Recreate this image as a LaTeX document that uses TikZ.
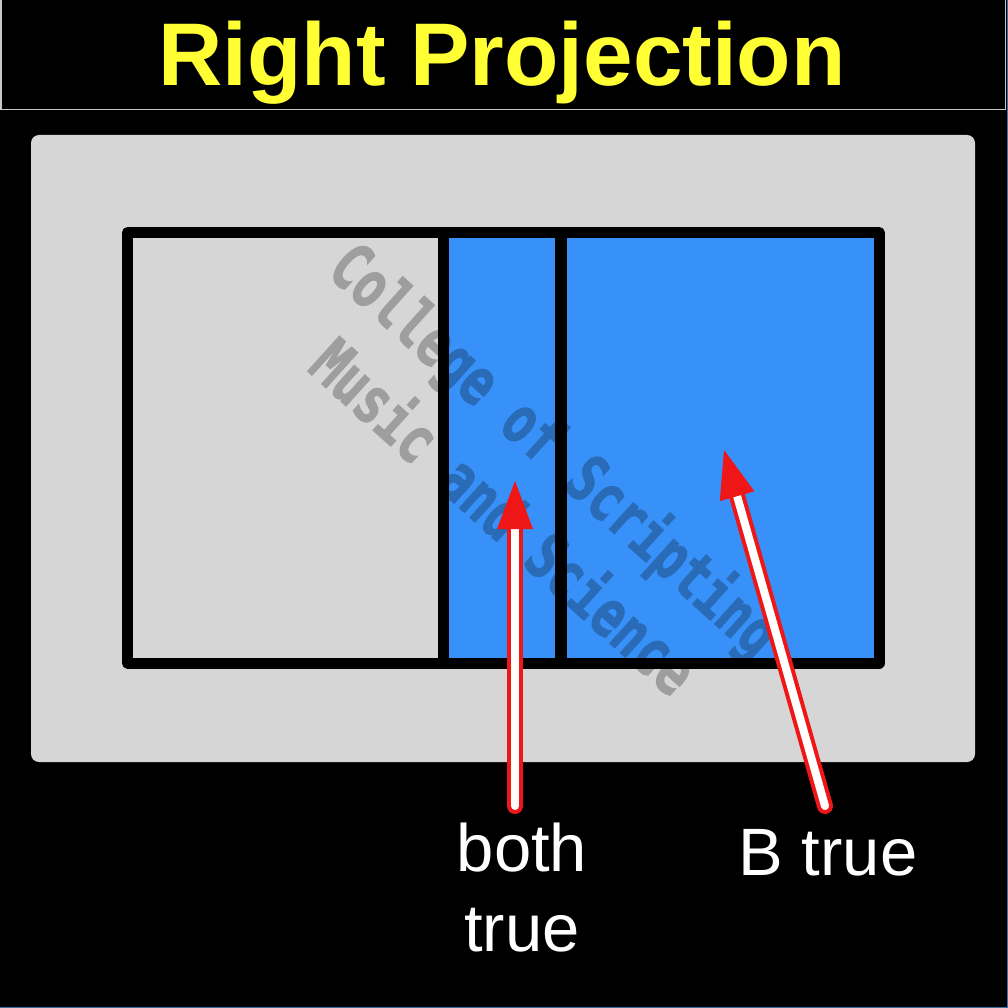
\documentclass[tikz,border=0pt]{standalone}
\usepackage{fontspec}
\setmainfont{Liberation Sans}
\newfontfamily\wmfont[BoldFeatures={FakeBold=2}]{DejaVu Sans Mono}
\usetikzlibrary{calc}
\definecolor{panelgray}{RGB}{214,214,214}
\definecolor{fillblue}{RGB}{56,145,248}
\definecolor{arrred}{RGB}{238,22,22}
\definecolor{titleyellow}{RGB}{255,255,51}
\definecolor{framegray}{RGB}{200,200,200}
\definecolor{edgeblue}{RGB}{58,110,165}
\begin{document}
\begin{tikzpicture}[x=1pt,y=-1pt,
  outline/.style={draw=black,line width=11pt,line join=round},
  divider/.style={draw=black,line width=11.5pt},
  shaftout/.style={draw=arrred,line width=16pt,line cap=round},
  shaftin/.style={draw=white,line width=8pt,line cap=round},
  headfill/.style={fill=arrred},
  lbl/.style={text=white,font=\fontsize{67}{80}\selectfont,inner sep=0pt},
  watermark/.style={text=black,font=\wmfont\bfseries\fontsize{48}{48}\selectfont,rotate=-42,yscale=1.35,inner sep=0pt}
]
\fill[black] (0,0) rectangle (1008,1008);
\useasboundingbox (0,0) rectangle (1008,1008);
% edge lines
\draw[edgeblue,line width=1pt] (1007.5,0) -- (1007.5,1007.5) -- (0,1007.5);
% title bar
\draw[framegray,line width=1.5pt] (1,-2) rectangle (1005.5,109.5);
\node[font=\bfseries\fontsize{89}{89}\selectfont,text=titleyellow,anchor=base,inner sep=0pt] (title) at (502,86) {Right Projection};
% panel
\fill[panelgray,rounded corners=8pt] (31,135) rectangle (975,762);
% blue regions
\fill[fillblue] (443.5,233) rectangle (879,663);
% outline and dividers
\draw[outline] (127.5,232.5) rectangle (879,663);
\draw[divider] (443.5,232.5) -- (443.5,663);
\draw[divider] (561,232.5) -- (561,663);
% watermark
\begin{scope}[transparency group,opacity=0.26]
\node[watermark] (wm1) at (553,452) {College of Scripting};
\node[watermark] (wm2) at (506,515) {Music and Science};
\end{scope}
% arrow 1
\coordinate (t1) at (515,806);
\coordinate (h1) at (515,481);
\coordinate (b1) at ($(h1)!48pt!(t1)$);
\draw[shaftout] (t1) -- (b1);
\draw[shaftin] (t1) -- (b1);
\fill[headfill] (h1) -- ($(b1)!18pt!90:(t1)$) -- ($(b1)!18pt!-90:(t1)$) -- cycle;
% arrow 2
\coordinate (t2) at (825,806);
\coordinate (h2) at (724,450);
\coordinate (b2) at ($(h2)!48pt!(t2)$);
\draw[shaftout] (t2) -- (b2);
\draw[shaftin] (t2) -- (b2);
\fill[headfill] (h2) -- ($(b2)!18pt!90:(t2)$) -- ($(b2)!18pt!-90:(t2)$) -- cycle;
% labels
\node[lbl,align=center,anchor=north] (both) at (522,823) {both\\true};
\node[lbl,anchor=base] (btrue) at (828,875) {B true};
\end{tikzpicture}
\end{document}
